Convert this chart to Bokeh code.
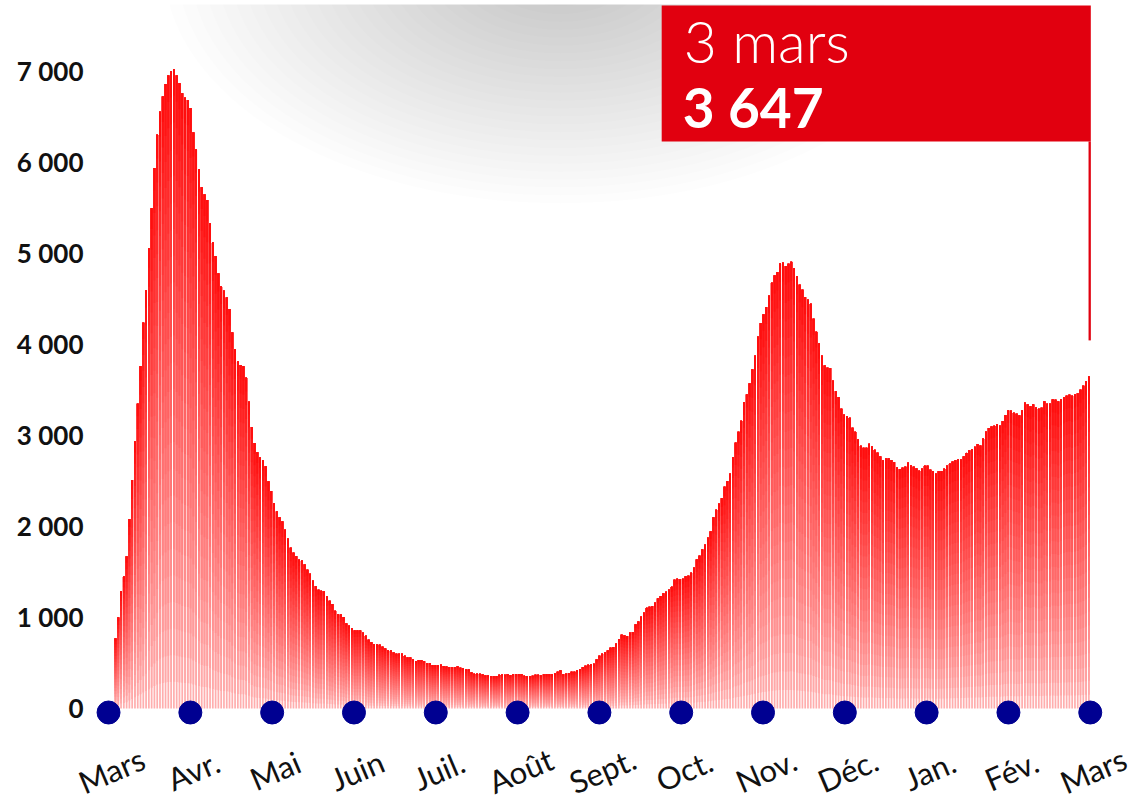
import numpy as np
from bokeh.plotting import figure
from bokeh.models import FixedTicker, Range1d
from bokeh.core.properties import value
from bokeh.embed import file_html
from bokeh.resources import INLINE

# ---------------- data ----------------
# daily number of patients (18 March 2020 -> 3 March 2021)
values = [
    770, 1000, 1290, 1450, 1670, 2080, 2510, 2935, 3350, 3760,
    4238, 4595, 5055, 5498, 5940, 6306, 6557, 6724, 6862, 6955,
    7005, 7025, 6956, 6872, 6761, 6710, 6687, 6598, 6330, 6144,
    5926, 5727, 5648, 5588, 5333, 5124, 4971, 4781, 4637, 4591,
    4516, 4391, 4132, 3951, 3812, 3775, 3761, 3635, 3371, 3093,
    2917, 2815, 2759, 2727, 2662, 2495, 2390, 2255, 2165, 2100,
    2055, 1963, 1864, 1766, 1711, 1674, 1634, 1626, 1582, 1524,
    1480, 1403, 1344, 1304, 1293, 1286, 1231, 1183, 1147, 1073,
    1037, 1033, 1004, 934, 908, 883, 857, 857, 857, 832,
    799, 755, 729, 707, 703, 700, 678, 659, 637, 637,
    615, 601, 601, 601, 579, 560, 560, 538, 520, 531,
    531, 520, 498, 498, 476, 476, 476, 480, 466, 460,
    456, 454, 454, 462, 447, 443, 429, 429, 396, 381,
    381, 381, 374, 363, 363, 355, 355, 355, 370, 374,
    370, 377, 366, 377, 377, 377, 377, 359, 355, 355,
    359, 370, 370, 363, 374, 377, 377, 377, 385, 403,
    418, 377, 381, 388, 403, 403, 418, 432, 454, 469,
    480, 484, 491, 538, 579, 601, 615, 637, 667, 674,
    711, 762, 810, 802, 795, 833, 840, 923, 955, 1007,
    1051, 1106, 1117, 1125, 1161, 1209, 1234, 1264, 1282, 1304,
    1337, 1414, 1425, 1418, 1425, 1451, 1458, 1491, 1546, 1637,
    1678, 1747, 1799, 1876, 1945, 2099, 2183, 2249, 2311, 2436,
    2498, 2579, 2762, 2920, 3040, 3161, 3366, 3451, 3571, 3725,
    3875, 4084, 4234, 4330, 4410, 4535, 4678, 4758, 4795, 4890,
    4897, 4861, 4886, 4908, 4839, 4751, 4656, 4601, 4520, 4491,
    4447, 4282, 4139, 4011, 3877, 3768, 3744, 3740, 3601, 3487,
    3421, 3293, 3227, 3212, 3194, 3084, 3040, 2956, 2886, 2864,
    2864, 2908, 2879, 2842, 2810, 2769, 2729, 2747, 2747, 2729,
    2707, 2648, 2630, 2645, 2656, 2700, 2670, 2656, 2637, 2612,
    2634, 2667, 2667, 2623, 2608, 2579, 2608, 2608, 2634, 2667,
    2690, 2712, 2727, 2736, 2736, 2769, 2808, 2837, 2850, 2875,
    2906, 2888, 2965, 3040, 3081, 3097, 3106, 3126, 3108, 3157,
    3223, 3275, 3271, 3249, 3238, 3220, 3275, 3359, 3341, 3319,
    3341, 3308, 3293, 3304, 3374, 3348, 3348, 3396, 3392, 3374,
    3396, 3418, 3436, 3447, 3436, 3451, 3462, 3502, 3546, 3593,
    3647,
]
months = ["Mars", "Avr.", "Mai", "Juin", "Juil.", "Août", "Sept.",
          "Oct.", "Nov.", "Déc.", "Jan.", "Fév.", "Mars"]
y_ticks = [0, 1000, 2000, 3000, 4000, 5000, 6000, 7000]
y_tick_labels = ["0", "1 000", "2 000", "3 000", "4 000", "5 000", "6 000", "7 000"]
last_date_label = "3 mars"

# ---------------- styling ----------------
RED = "#e1000f"
BLUE = "#000091"
FONT = "Lato"

n = len(values)
vals = np.array(values, dtype=float)
idx = np.arange(n)
last = n - 1

p = figure(width=1135, height=800, output_backend="svg", toolbar_location=None,
           x_range=Range1d(-14.38, last + 16.77), y_range=Range1d(-1011, 7736),
           x_axis_location=None, min_border_left=75, min_border_right=0,
           min_border_top=4, min_border_bottom=0)
p.background_fill_color = "white"
p.border_fill_color = "white"
p.outline_line_color = None
p.xgrid.visible = False
p.ygrid.visible = False

ax = p.yaxis[0]
ax.ticker = FixedTicker(ticks=y_ticks)
ax.major_label_overrides = {t: l for t, l in zip(y_ticks, y_tick_labels)}
ax.axis_line_color = None
ax.major_tick_line_color = None
ax.minor_tick_line_color = None
ax.major_tick_out = 0
ax.major_label_standoff = -8
ax.major_label_text_font = FONT
ax.major_label_text_font_style = "bold"
ax.major_label_text_font_size = "26px"
ax.major_label_text_color = "#111111"

# soft grey radial shading at the top
L = 30
scales = (np.arange(L) + 1) / L
p.ellipse(x=[160] * L, y=[8150] * L, width=list(285 * scales), height=list(5200 * scales),
          fill_color="black", fill_alpha=0.0062, line_color=None)

# bars with vertical gradient (pale at the bottom, red at the top)
N = 24
k = np.arange(N)
left = np.repeat(idx - 0.31, N)
right = np.repeat(idx + 0.31, N)
bottom = (vals[:, None] * k[None, :] / N).ravel()
top = np.repeat(vals, N)
t = np.tile((k + 0.5) / N, n)
c0 = np.array([255, 178, 178])
c1 = np.array([255, 10, 10])
cols = ["#%02x%02x%02x" % tuple(np.round(c0 + (c1 - c0) * tt).astype(int)) for tt in t]
p.quad(left=left, right=right, bottom=bottom, top=top, fill_color=cols, line_color=None)

# month dots and labels
dot_x = np.linspace(-2.5, last + 0.5, len(months))
p.scatter(x=dot_x, y=[-44] * len(months), size=23, fill_color=BLUE, line_color=BLUE)
p.text(x=dot_x, y=[-680] * len(months), text=months, angle=np.deg2rad(23),
       text_align="center", text_baseline="middle", x_offset=3,
       text_font=value(FONT), text_font_size="31px", text_color="#111111")

# highlight box for the last value
box_right = last + 0.7
box_left = box_right - 154.3
p.quad(left=[box_left], right=[box_right], bottom=[6231], top=[7725],
       fill_color=RED, line_color=None)
p.segment(x0=[last + 0.3], y0=[6231], x1=[last + 0.3], y1=[4045],
          line_color=RED, line_width=2.3)
p.text(x=[box_left], y=[7330], text=[last_date_label], x_offset=22,
       text_baseline="alphabetic", text_align="left",
       text_font=value("Lato Light"), text_font_size="57px", text_color="white")
p.text(x=[box_left], y=[6605], text=[f"{values[-1]:,}".replace(",", " ")], x_offset=21,
       text_baseline="alphabetic", text_align="left",
       text_font=value(FONT), text_font_style="bold", text_font_size="55px",
       text_color="white")

open("out.html", "w").write(file_html(p, INLINE, title="Réanimation"))
